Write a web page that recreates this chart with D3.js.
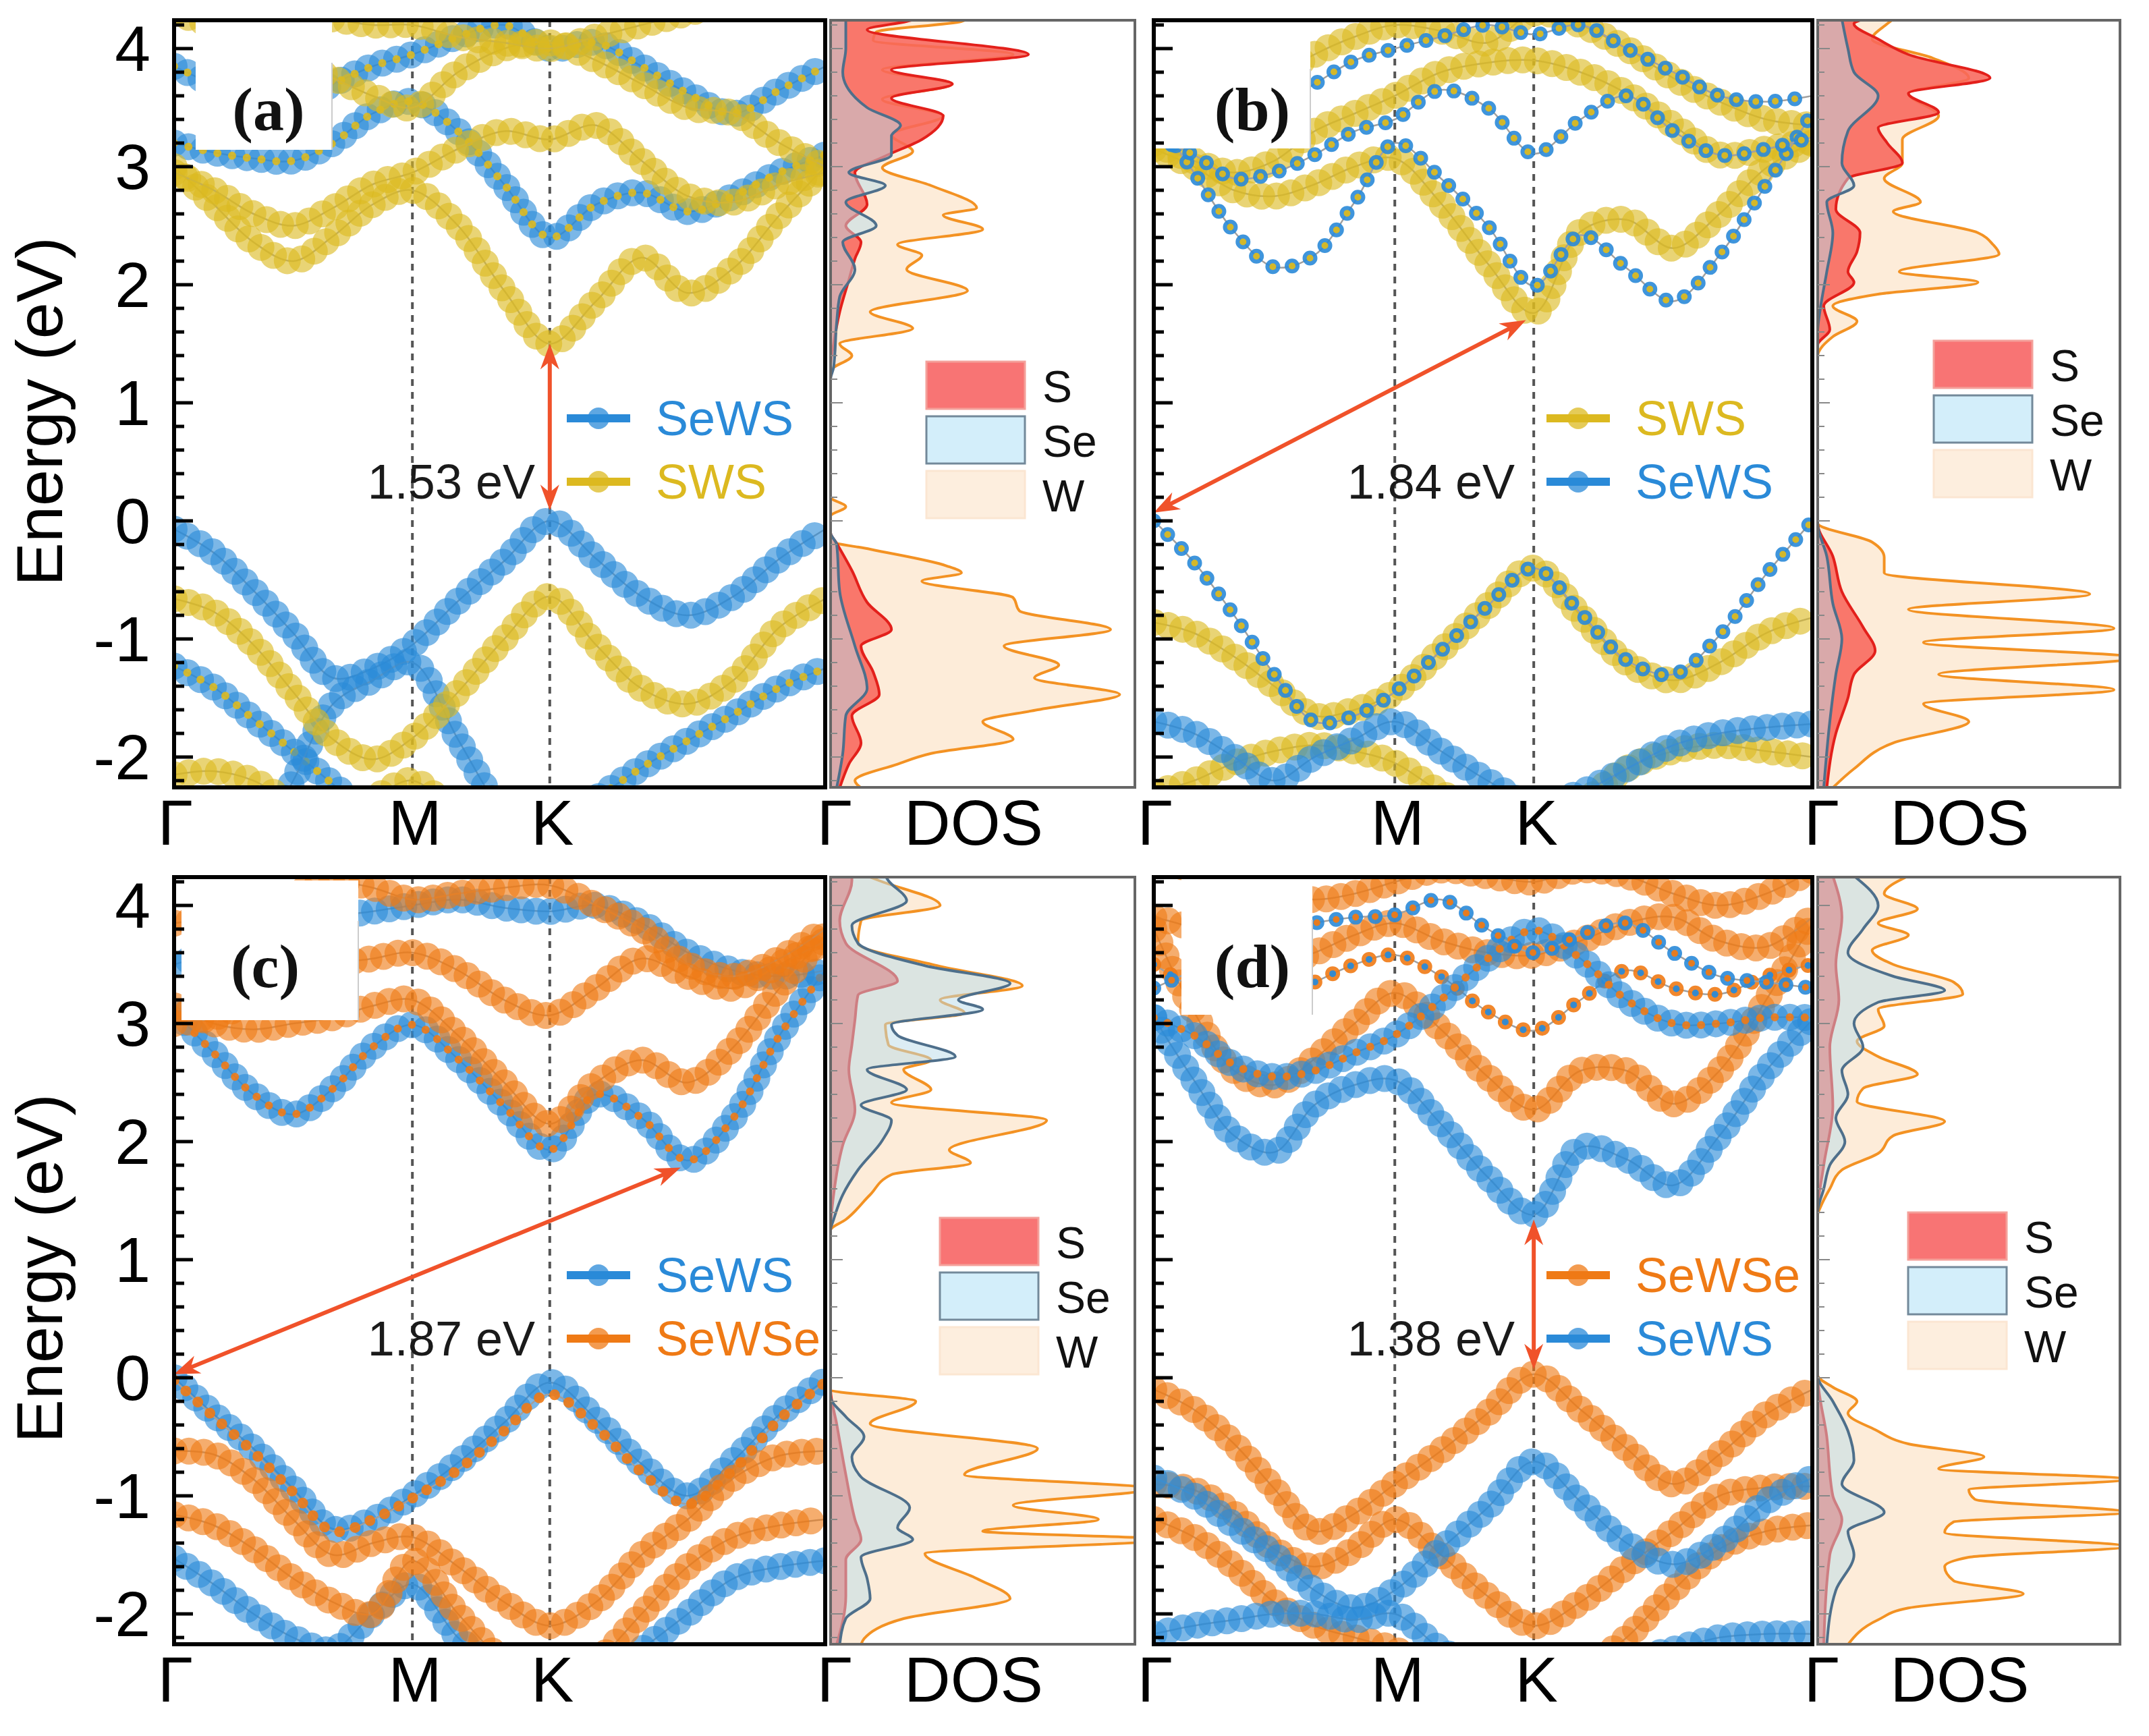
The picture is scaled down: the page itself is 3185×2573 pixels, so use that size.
<!DOCTYPE html>
<html><head><meta charset="utf-8">
<script src="https://cdn.jsdelivr.net/npm/d3@7"></script>
<style>body{margin:0;background:#fff}svg{display:block}</style>
</head><body>
<svg id="c" width="3185" height="2573"></svg>
<script>
// ---------------- DATA ----------------
const K_FRAC = [0,0.061,0.122,0.183,0.244,0.305,0.366,0.436,0.507,0.577,0.648,0.718,0.789,0.859,0.930,1];
const HSP_POS = [0,0.366,0.577,1];
const HSP_LABELS = ["Γ","M","K","Γ"];
const Y_TICKS = [-2,-1,0,1,2,3,4];
const Y_TICK_LABELS = ["-2","-1","0","1","2","3","4"];
const MATERIALS = ["SeWS","SWS","SeWSe"];

// panel (a): SeWS / SWS
const A_SeWS = [
 [-0.07,-0.27,-0.59,-0.95,-1.33,-1.25,-1.05,-0.68,-0.34,0.0,-0.32,-0.64,-0.8,-0.64,-0.32,-0.07],
 [-1.23,-1.41,-1.68,-1.95,-2.23,-2.5,-2.6,-2.7,-2.7,-2.6,-2.35,-2.09,-1.86,-1.64,-1.41,-1.25],
 [-3,-3,-2.8,-2.2,-1.55,-1.35,-1.2,-1.85,-2.5,-2.9,-3,-3,-3,-3,-3,-3],
 [3.2,3.12,3.07,3.05,3.2,3.45,3.55,3.3,2.85,2.4,2.68,2.78,2.62,2.75,2.95,3.1],
 [3.85,3.7,3.6,3.55,3.7,3.85,3.95,4.1,4.2,4.0,4.05,3.85,3.62,3.45,3.65,3.85]
];
const A_SeWS_KIND = ["B","BI","B","BI","BI"];
const A_SWS = [
 [-0.66,-0.77,-1.05,-1.45,-1.85,-2.02,-1.84,-1.45,-1.0,-0.64,-1.05,-1.42,-1.55,-1.35,-0.9,-0.66],
 [-2.15,-2.12,-2.2,-2.4,-2.5,-2.35,-2.2,-2.5,-2.7,-2.8,-2.8,-2.7,-2.6,-2.5,-2.4,-2.35],
 [3.0,2.68,2.36,2.2,2.41,2.68,2.8,2.5,1.95,1.5,1.86,2.23,1.93,2.14,2.59,3.0],
 [2.95,2.8,2.6,2.5,2.65,2.85,2.95,3.15,3.3,3.23,3.35,3.05,2.75,2.7,2.85,2.95],
 [4.3,4.2,4.1,3.9,3.75,3.6,3.5,3.8,4.0,4.05,3.9,3.7,3.5,3.45,3.2,3.0],
 [4.6,4.5,4.4,4.3,4.25,4.2,4.2,4.1,4.05,4.0,4.1,4.2,4.3,4.4,4.5,4.6]
];
const A_SWS_KIND = ["B","B","B","B","B","B"];

// panel (b): SWS / SeWS
const B_SWS = [
 [-0.86,-0.95,-1.15,-1.4,-1.65,-1.6,-1.45,-1.1,-0.72,-0.4,-0.8,-1.2,-1.35,-1.2,-0.95,-0.82],
 [-2.3,-2.2,-2.05,-1.95,-1.9,-1.95,-2.05,-2.3,-2.5,-2.6,-2.4,-2.1,-1.95,-1.9,-1.95,-2.0],
 [3.15,3.0,2.8,2.75,2.85,3.0,3.07,2.69,2.18,1.76,2.45,2.55,2.31,2.6,2.99,3.2],
 [3.2,3.05,2.95,3.05,3.3,3.45,3.6,3.8,3.88,3.9,3.8,3.62,3.35,3.1,3.15,3.22],
 [3.35,3.4,3.55,3.75,3.95,4.1,4.2,4.15,4.05,4.3,4.2,4.0,3.75,3.55,3.4,3.35]
];
const B_SWS_KIND = ["B","B","B","B","B"];
const B_SeWS = [
 [0.0,-0.35,-0.8,-1.3,-1.7,-1.65,-1.45,-1.1,-0.72,-0.4,-0.78,-1.18,-1.3,-0.97,-0.45,0.0],
 [-1.7,-1.8,-2.0,-2.2,-2.0,-1.85,-1.7,-1.95,-2.2,-2.4,-2.3,-2.1,-1.9,-1.8,-1.75,-1.72],
 [3.45,2.95,2.45,2.15,2.25,2.7,3.2,2.9,2.5,1.99,2.42,2.14,1.86,2.25,2.85,3.45],
 [3.25,3.1,2.9,2.95,3.1,3.3,3.4,3.65,3.5,3.11,3.4,3.6,3.3,3.1,3.15,3.25],
 [3.6,3.5,3.4,3.5,3.7,3.9,4.0,4.1,4.2,4.12,4.2,4.0,3.8,3.6,3.55,3.6]
];
const B_SeWS_KIND = ["S","B","S","S","S"];

// panel (c): SeWS / SeWSe
const C_SeWS = [
 [0.0,-0.31,-0.6,-0.94,-1.28,-1.2,-1.0,-0.72,-0.38,-0.04,-0.35,-0.73,-1.0,-0.7,-0.31,-0.02],
 [-1.53,-1.75,-2.0,-2.2,-2.3,-2.0,-1.75,-2.2,-2.5,-2.7,-2.6,-2.3,-2.0,-1.7,-1.6,-1.55],
 [3.1,2.75,2.4,2.23,2.45,2.8,2.99,2.7,2.3,1.93,2.4,2.2,1.84,2.2,2.9,3.45],
 [3.5,3.6,3.7,3.8,3.9,3.95,4.0,4.05,3.98,3.95,4.0,3.85,3.6,3.45,3.4,3.45]
];
const C_SeWS_KIND = ["B","B","BI","B"];
const C_SeWSe = [
 [-0.02,-0.33,-0.63,-0.97,-1.3,-1.2,-1.02,-0.78,-0.45,-0.14,-0.42,-0.8,-1.07,-0.78,-0.35,-0.04],
 [-0.62,-0.65,-0.86,-1.2,-1.5,-1.4,-1.35,-1.6,-1.9,-2.1,-1.9,-1.5,-1.2,-0.85,-0.66,-0.62],
 [-1.16,-1.25,-1.45,-1.7,-1.9,-2.0,-1.55,-2.0,-2.4,-2.6,-2.4,-2.0,-1.6,-1.35,-1.25,-1.2],
 [3.15,3.0,2.95,3.0,3.05,3.15,3.2,2.9,2.5,2.15,2.5,2.69,2.5,2.8,3.3,3.75],
 [3.0,3.05,3.2,3.4,3.5,3.55,3.6,3.45,3.2,3.07,3.3,3.55,3.4,3.3,3.5,3.7],
 [3.85,3.9,4.0,4.1,4.2,4.15,4.05,4.1,4.15,4.17,4.0,3.8,3.5,3.4,3.55,3.8]
];
const C_SeWSe_KIND = ["D","B","B","B","B","B"];

// panel (d): SeWSe / SeWS
const D_SeWSe = [
 [-0.1,-0.27,-0.56,-0.94,-1.3,-1.15,-0.9,-0.62,-0.3,0.03,-0.27,-0.6,-0.9,-0.65,-0.31,-0.1],
 [-0.9,-0.95,-1.15,-1.45,-1.6,-1.45,-1.2,-1.5,-1.85,-2.1,-1.9,-1.6,-1.3,-1.0,-0.93,-0.92],
 [-1.2,-1.35,-1.6,-1.9,-2.1,-2.2,-2.3,-2.5,-2.6,-2.7,-2.5,-2.2,-1.8,-1.45,-1.3,-1.25],
 [3.8,3.1,2.6,2.48,2.7,3.0,3.26,2.95,2.55,2.27,2.6,2.6,2.32,2.6,3.2,3.85],
 [3.5,3.3,3.15,3.2,3.35,3.5,3.58,3.4,3.1,2.94,3.2,3.45,3.3,3.25,3.4,3.5],
 [3.9,3.8,3.6,3.5,3.6,3.75,3.85,3.7,3.6,3.58,3.7,3.85,3.9,3.7,3.65,3.9],
 [4.4,4.3,4.2,4.1,4.05,4.1,4.2,4.3,4.25,4.2,4.3,4.25,4.1,4.0,4.1,4.3]
];
const D_SeWSe_KIND = ["B","B","B","B","S","B","B"];
const D_SeWS = [
 [-0.85,-1.0,-1.25,-1.5,-1.8,-1.95,-1.8,-1.45,-1.1,-0.71,-1.05,-1.4,-1.58,-1.4,-1.05,-0.85],
 [-2.17,-2.1,-2.05,-2.0,-2.0,-2.05,-2.0,-2.3,-2.5,-2.6,-2.55,-2.4,-2.3,-2.2,-2.17,-2.17],
 [3.05,2.52,2.05,1.91,2.31,2.48,2.52,2.15,1.7,1.38,1.95,1.85,1.63,2.05,2.6,3.03],
 [3.05,2.9,2.65,2.55,2.6,2.75,2.9,3.2,3.55,3.79,3.55,3.2,3.0,3.0,3.05,3.05],
 [3.3,3.45,3.6,3.75,3.85,3.9,3.92,4.05,3.8,3.6,3.75,3.85,3.6,3.4,3.35,3.3]
];
const D_SeWS_KIND = ["B","B","B","BI","S"];

// band gaps: [kFrac, E] start (VBM side) and end (CBM side)
const GAP_TEXT = ["1.53 eV","1.84 eV","1.87 eV","1.38 eV"];
const GAP_FROM = [[0.577,0.09],[0,0.07],[0,0.03],[0.577,0.07]];
const GAP_TO   = [[0.577,1.5],[0.565,1.70],[0.778,1.78],[0.577,1.34]];

// projected DOS: [E (eV), DOS (fraction of panel width)]
const DOS_A_W = [[4.25,0.45],[4.23,0.43],[4.14,0.15],[4.07,0.14],[3.95,0.6],[3.82,0.17],[3.7,0.4],[3.57,0.17],[3.43,0.37],[3.27,0.2],[3.13,0.27],[2.99,0.17],[2.84,0.33],[2.65,0.48],[2.59,0.37],[2.47,0.5],[2.34,0.22],[2.25,0.3],[2.13,0.25],[1.95,0.45],[1.77,0.13],[1.63,0.27],[1.5,0.03],[1.4,0.07],[1.27,0.0],[0.2,0.0],[0.12,0.05],[0.04,0.0],[-0.17,0.0],[-0.24,0.13],[-0.38,0.38],[-0.44,0.43],[-0.51,0.3],[-0.65,0.6],[-0.76,0.62],[-0.92,0.92],[-1.06,0.57],[-1.22,0.75],[-1.33,0.67],[-1.47,0.95],[-1.6,0.68],[-1.7,0.5],[-1.85,0.6],[-1.97,0.33],[-2.06,0.22],[-2.2,0.08],[-2.26,0.1]];
const DOS_A_S = [[4.25,0.28],[4.23,0.25],[4.16,0.12],[3.95,0.65],[3.82,0.2],[3.7,0.4],[3.58,0.2],[3.43,0.37],[3.23,0.3],[3.09,0.18],[2.95,0.08],[2.68,0.12],[2.5,0.05],[2.36,0.1],[2.22,0.08],[2.04,0.06],[1.77,0.03],[1.5,0.01],[1.3,0],[-0.1,0],[-0.19,0.02],[-0.42,0.07],[-0.69,0.12],[-0.92,0.2],[-1.06,0.1],[-1.28,0.14],[-1.47,0.16],[-1.65,0.07],[-1.88,0.1],[-2.06,0.06],[-2.26,0.03]];
const DOS_A_Se = [[4.25,0.05],[4.0,0.05],[3.8,0.04],[3.5,0.12],[3.35,0.23],[3.26,0.2],[3.1,0.2],[2.95,0.06],[2.84,0.18],[2.7,0.05],[2.5,0.15],[2.36,0.04],[2.13,0.08],[1.9,0.03],[1.68,0.02],[1.3,0.01],[1.2,0],[-0.1,0],[-0.2,0.02],[-0.6,0.03],[-1.06,0.08],[-1.42,0.12],[-1.65,0.05],[-1.97,0.04],[-2.26,0.02]];

const DOS_B_W = [[4.25,0.25],[4.21,0.23],[4.08,0.18],[3.92,0.38],[3.75,0.5],[3.62,0.3],[3.43,0.4],[3.23,0.28],[3.03,0.28],[2.9,0.22],[2.7,0.34],[2.62,0.25],[2.44,0.53],[2.34,0.58],[2.26,0.6],[2.11,0.27],[2.02,0.53],[1.92,0.2],[1.82,0.05],[1.69,0.13],[1.56,0.05],[1.46,0.01],[1.4,0],[-0.02,0],[-0.18,0.18],[-0.31,0.22],[-0.44,0.22],[-0.62,0.9],[-0.75,0.3],[-0.91,0.98],[-1.03,0.35],[-1.16,1.05],[-1.3,0.4],[-1.43,0.98],[-1.55,0.35],[-1.7,0.5],[-1.88,0.25],[-2.1,0.12],[-2.26,0.05]];
const DOS_B_S = [[4.25,0.15],[4.21,0.12],[4.08,0.2],[3.95,0.3],[3.75,0.57],[3.62,0.3],[3.46,0.4],[3.33,0.2],[3.2,0.23],[3.03,0.28],[2.9,0.1],[2.64,0.06],[2.44,0.14],[2.28,0.13],[2.11,0.1],[2.02,0.12],[1.82,0.02],[1.62,0.04],[1.49,0],[-0.02,0],[-0.3,0.05],[-0.6,0.08],[-0.9,0.15],[-1.1,0.19],[-1.3,0.12],[-1.5,0.1],[-1.8,0.06],[-2.26,0.03]];
const DOS_B_Se = [[4.25,0.08],[4.0,0.1],[3.8,0.12],[3.6,0.2],[3.3,0.1],[3.03,0.08],[2.84,0.12],[2.7,0.03],[2.44,0.05],[2.11,0.03],[1.82,0.01],[1.6,0],[-0.02,0],[-0.3,0.03],[-0.7,0.05],[-1.0,0.08],[-1.3,0.06],[-1.7,0.04],[-2.26,0.02]];

const DOS_C_W = [[4.25,0.12],[4.21,0.16],[4.0,0.36],[3.87,0.1],[3.68,0.09],[3.49,0.35],[3.32,0.63],[3.2,0.36],[3.09,0.44],[2.99,0.18],[2.82,0.19],[2.69,0.33],[2.61,0.24],[2.44,0.33],[2.33,0.2],[2.18,0.71],[1.93,0.39],[1.82,0.46],[1.72,0.2],[1.55,0.13],[1.34,0.05],[1.25,0],[-0.1,0],[-0.2,0.28],[-0.39,0.13],[-0.6,0.68],[-0.82,0.44],[-0.94,1.05],[-1.08,0.6],[-1.2,0.88],[-1.3,0.5],[-1.37,1.1],[-1.49,0.31],[-1.7,0.48],[-1.87,0.59],[-2.04,0.24],[-2.21,0.11],[-2.26,0.1]];
const DOS_C_S = [[4.25,0.07],[4.21,0.07],[3.87,0.03],[3.68,0.05],[3.36,0.22],[3.24,0.09],[3.03,0.08],[2.82,0.07],[2.61,0.06],[2.27,0.08],[1.97,0.04],[1.55,0.01],[1.25,0],[-0.1,0],[-0.39,0.02],[-0.82,0.05],[-1.2,0.08],[-1.37,0.1],[-1.54,0.05],[-1.85,0.05],[-2.26,0.02]];
const DOS_C_Se = [[4.25,0.18],[4.21,0.19],[4.04,0.25],[3.83,0.07],[3.68,0.09],[3.49,0.31],[3.34,0.59],[3.2,0.42],[3.12,0.5],[2.99,0.2],[2.9,0.22],[2.72,0.41],[2.61,0.12],[2.44,0.25],[2.31,0.1],[2.18,0.2],[2.01,0.17],[1.76,0.09],[1.55,0.04],[1.34,0.01],[1.25,0],[-0.1,0],[-0.16,0.0],[-0.33,0.05],[-0.5,0.11],[-0.67,0.07],[-0.84,0.1],[-1.1,0.26],[-1.27,0.22],[-1.37,0.27],[-1.52,0.1],[-1.7,0.12],[-1.87,0.13],[-2.04,0.05],[-2.26,0.03]];

const DOS_D_W = [[4.25,0.3],[4.1,0.22],[3.97,0.33],[3.85,0.2],[3.75,0.3],[3.62,0.18],[3.5,0.25],[3.35,0.45],[3.25,0.48],[3.12,0.2],[2.98,0.22],[2.85,0.13],[2.72,0.2],[2.57,0.33],[2.45,0.15],[2.34,0.13],[2.17,0.42],[2.05,0.25],[1.9,0.2],[1.76,0.08],[1.6,0.04],[1.45,0.01],[1.38,0],[0.02,0],[-0.08,0.05],[-0.2,0.13],[-0.3,0.1],[-0.44,0.19],[-0.56,0.3],[-0.67,0.55],[-0.77,0.4],[-0.86,1.02],[-0.95,0.5],[-1.03,0.52],[-1.14,1.02],[-1.22,0.45],[-1.31,0.42],[-1.43,1.02],[-1.52,0.5],[-1.6,0.42],[-1.72,0.45],[-1.83,0.68],[-1.95,0.3],[-2.05,0.2],[-2.26,0.1]];
const DOS_D_S = [[4.25,0.05],[3.9,0.08],[3.5,0.06],[3.2,0.07],[2.8,0.04],[2.3,0.05],[1.8,0.02],[1.4,0],[0.02,0],[-0.5,0.03],[-1.0,0.05],[-1.2,0.08],[-1.5,0.04],[-2.26,0.02]];
const DOS_D_Se = [[4.25,0.12],[4.0,0.2],[3.8,0.15],[3.6,0.1],[3.4,0.25],[3.28,0.42],[3.18,0.2],[3.0,0.12],[2.8,0.15],[2.6,0.08],[2.4,0.1],[2.2,0.06],[2.0,0.09],[1.8,0.04],[1.6,0.02],[1.4,0],[0.02,0],[-0.2,0.05],[-0.45,0.1],[-0.7,0.12],[-0.9,0.08],[-1.14,0.22],[-1.3,0.1],[-1.5,0.12],[-1.8,0.06],[-2.26,0.03]];
const DOS_SPECIES = ["S","Se","W"];

// ---------------- LAYOUT / STYLE ----------------
const COLORS = {SeWS:"#2a8ad8", SWS:"#dcb920", SeWSe:"#ef7a15"};
const COLS = [{bx:258,bw:965,dx:1231,dw:451},{bx:1710,bw:976,dx:2694,dw:448}];
const ROWS = [30,1300];
const H = 1137;
const Y_DOMAIN = [-2.257,4.24];
const FONT = "'Liberation Sans', Arial, sans-serif";

const PANELS = [
 {id:"a",col:0,row:0,mats:[["SeWS",A_SeWS,A_SeWS_KIND],["SWS",A_SWS,A_SWS_KIND]],legend:["SeWS","SWS"],gap:0,
  dos:{W:DOS_A_W,S:DOS_A_S,Se:DOS_A_Se},box:[32,3,202,189],lbl:140,dleg:[142,506]},
 {id:"b",col:1,row:0,mats:[["SWS",B_SWS,B_SWS_KIND],["SeWS",B_SeWS,B_SeWS_KIND]],legend:["SWS","SeWS"],gap:1,
  dos:{W:DOS_B_W,S:DOS_B_S,Se:DOS_B_Se},box:[2,12,230,178],lbl:146,dleg:[172,475]},
 {id:"c",col:0,row:1,mats:[["SeWS",C_SeWS,C_SeWS_KIND],["SeWSe",C_SeWSe,C_SeWSe_KIND]],legend:["SeWS","SeWSe"],gap:2,
  dos:{W:DOS_C_W,S:DOS_C_S,Se:DOS_C_Se},box:[11,5,262,207],lbl:135,dleg:[162,505]},
 {id:"d",col:1,row:1,mats:[["SeWSe",D_SeWSe,D_SeWSe_KIND],["SeWS",D_SeWS,D_SeWS_KIND]],legend:["SeWSe","SeWS"],gap:3,
  dos:{W:DOS_D_W,S:DOS_D_S,Se:DOS_D_Se},box:[41,3,194,201],lbl:146,dleg:[134,497]}
];

const svg = d3.select("#c");
const defs = svg.append("defs");

function dots(g, d, color, opacity, width, gap, offset) {
  g.append("path").attr("d",d).attr("fill","none").attr("stroke",color).attr("stroke-opacity",opacity)
    .attr("stroke-width",width).attr("stroke-linecap","round")
    .attr("stroke-dasharray",`0 ${gap}`).attr("stroke-dashoffset",offset);
}

function drawBand(g, vals, color, other, kind, x, y) {
  const pts = vals.map((e,i)=>[K_FRAC[i], e]);
  const line = d3.line().x(d=>x(d[0])).y(d=>y(d[1])).curve(d3.curveCatmullRom.alpha(0.5));
  const d = line(pts);
  g.append("path").attr("d",d).attr("fill","none").attr("stroke","#a0a0a0").attr("stroke-width",2.5);
  if (kind==="B" || kind==="BI") {
    dots(g, d, color, 0.62, 40, 44, 0);
    dots(g, d, color, 0.62, 40, 44, 22);
    if (kind==="BI") dots(g, d, other, 0.9, 12, 22, 0);
  } else if (kind==="S") {
    dots(g, d, color, 0.9, 22, 29, 0);
    dots(g, d, other, 0.95, 10, 29, 0);
  } else if (kind==="D") {
    dots(g, d, color, 0.9, 16, 24, 0);
  }
}

function arrowHead(g, tip, from, color) {
  const dx = tip[0]-from[0], dy = tip[1]-from[1], L = Math.hypot(dx,dy);
  const ux = dx/L, uy = dy/L, hl = 38, hw = 14;
  const bx = tip[0]-ux*hl, by = tip[1]-uy*hl;
  g.append("path").attr("d",`M${tip[0]},${tip[1]}L${bx-uy*hw},${by+ux*hw}L${tip[0]-ux*hl*0.7},${tip[1]-uy*hl*0.7}L${bx+uy*hw},${by-ux*hw}Z`)
   .attr("fill",color);
}

PANELS.forEach(P => {
  const col = COLS[P.col], top = ROWS[P.row];
  const x = d3.scaleLinear().domain([0,1]).range([col.bx, col.bx+col.bw]);
  const y = d3.scaleLinear().domain(Y_DOMAIN).range([top+H, top]);
  const xd = d3.scaleLinear().domain([0,1]).range([col.dx, col.dx+col.dw]);
  const g = svg.append("g");

  defs.append("clipPath").attr("id","cb"+P.id).append("rect")
    .attr("x",col.bx).attr("y",top).attr("width",col.bw).attr("height",H);
  defs.append("clipPath").attr("id","cd"+P.id).append("rect")
    .attr("x",col.dx).attr("y",top).attr("width",col.dw).attr("height",H);

  // dashed high-symmetry lines
  [HSP_POS[1],HSP_POS[2]].forEach(k => {
    g.append("line").attr("x1",x(k)).attr("x2",x(k)).attr("y1",top).attr("y2",top+H)
      .attr("stroke","#555").attr("stroke-width",4).attr("stroke-dasharray","10 9");
  });

  // bands
  const bg = g.append("g").attr("clip-path",`url(#cb${P.id})`);
  const names = P.mats.map(m=>m[0]);
  P.mats.forEach(m => {
    const other = COLORS[names.find(n=>n!==m[0])];
    m[1].forEach((vals,i) => drawBand(bg, vals, COLORS[m[0]], other, m[2][i], x, y));
  });

  // panel label box
  g.append("rect").attr("x",col.bx+P.box[0]).attr("y",top+P.box[1]).attr("width",P.box[2]).attr("height",P.box[3])
    .attr("fill","#fff");
  g.append("line").attr("x1",col.bx+P.box[0]+P.box[2]).attr("x2",col.bx+P.box[0]+P.box[2])
    .attr("y1",top+P.box[1]+60).attr("y2",top+P.box[1]+P.box[3]).attr("stroke","#ccc").attr("stroke-width",2);
  g.append("text").attr("x",col.bx+P.lbl).attr("y",top+163).attr("text-anchor","middle")
    .attr("font-family","'Liberation Serif', 'Times New Roman', serif").attr("font-weight","bold")
    .attr("font-size",92).attr("fill","#111").text("("+P.id+")");

  // gap arrow
  const gi = P.gap;
  const p0 = [x(GAP_FROM[gi][0]), y(GAP_FROM[gi][1])];
  const p1 = [x(GAP_TO[gi][0]), y(GAP_TO[gi][1])];
  const AC = "#f0522a";
  {
    const dx = p1[0]-p0[0], dy = p1[1]-p0[1], L = Math.hypot(dx,dy), ux = dx/L, uy = dy/L;
    g.append("line").attr("x1",p0[0]+ux*25).attr("y1",p0[1]+uy*25).attr("x2",p1[0]-ux*25).attr("y2",p1[1]-uy*25)
      .attr("stroke",AC).attr("stroke-width",6);
    arrowHead(g, p0, p1, AC);
    arrowHead(g, p1, p0, AC);
  }
  g.append("text").attr("x",col.bx+535).attr("y",top+684).attr("dominant-baseline","central")
    .attr("text-anchor","end").attr("font-family",FONT).attr("font-size",72).attr("fill","#1a1a1a").text(GAP_TEXT[gi]);

  // legend
  P.legend.forEach((name,i) => {
    const ly = top + 590 + i*94, c = COLORS[name];
    g.append("line").attr("x1",col.bx+582).attr("x2",col.bx+676).attr("y1",ly).attr("y2",ly)
      .attr("stroke",c).attr("stroke-width",12);
    g.append("circle").attr("cx",col.bx+629).attr("cy",ly).attr("r",16).attr("fill",c).attr("fill-opacity",0.75);
    g.append("text").attr("x",col.bx+714).attr("y",ly).attr("dominant-baseline","central")
      .attr("font-family",FONT).attr("font-size",72).attr("fill",c).text(name);
  });

  // frame and ticks of band panel
  g.append("rect").attr("x",col.bx).attr("y",top).attr("width",col.bw).attr("height",H)
    .attr("fill","none").attr("stroke","#000").attr("stroke-width",6);
  const minor = d3.range(-2.2, 4.25, 0.2).filter(v => Math.abs(v-Math.round(v))>0.05);
  minor.forEach(v => g.append("line").attr("x1",col.bx).attr("x2",col.bx+15).attr("y1",y(v)).attr("y2",y(v))
    .attr("stroke","#000").attr("stroke-width",5));
  Y_TICKS.forEach((v,i) => {
    g.append("line").attr("x1",col.bx).attr("x2",col.bx+28).attr("y1",y(v)).attr("y2",y(v))
      .attr("stroke","#000").attr("stroke-width",5);
    if (P.col===0) g.append("text").attr("x",col.bx-35).attr("y",y(v)).attr("dominant-baseline","central")
      .attr("text-anchor","end").attr("font-family",FONT).attr("font-size",95).attr("fill","#000").text(Y_TICK_LABELS[i]);
  });

  // x labels
  const lblY = top + H + 85;
  HSP_POS.forEach((k,i) => {
    const xx = i===0 ? x(k)+2 : (i===3 ? x(k)+14 : x(k)+4);
    g.append("text").attr("x",xx).attr("y",lblY).attr("text-anchor","middle")
      .attr("font-family",FONT).attr("font-size",95).attr("fill","#000").text(HSP_LABELS[i]);
  });
  g.append("text").attr("x",col.dx+col.dw*0.47).attr("y",lblY).attr("text-anchor","middle")
    .attr("font-family",FONT).attr("font-size",95).attr("fill","#000").text("DOS");

  if (P.col===0) {
    g.append("text").attr("transform",`translate(92,${top+580}) rotate(-90)`).attr("text-anchor","middle")
      .attr("font-family",FONT).attr("font-size",97).attr("fill","#000").text("Energy (eV)");
  }

  // DOS panel
  const dg = g.append("g").attr("clip-path",`url(#cd${P.id})`);
  const area = d3.area().curve(d3.curveMonotoneY).y(d=>y(d[0])).x0(xd(0)).x1(d=>xd(d[1]));
  const dline = d3.line().curve(d3.curveMonotoneY).y(d=>y(d[0])).x(d=>xd(d[1]));
  dg.append("path").attr("d",area(P.dos.W)).attr("fill","#fde9d2").attr("fill-opacity",0.85);
  dg.append("path").attr("d",dline(P.dos.W)).attr("fill","none").attr("stroke","#f39223").attr("stroke-width",4);
  dg.append("path").attr("d",area(P.dos.S)).attr("fill","#f8665b").attr("fill-opacity",0.88);
  dg.append("path").attr("d",dline(P.dos.S)).attr("fill","none").attr("stroke","#e3201b").attr("stroke-width",4);
  dg.append("path").attr("d",area(P.dos.Se)).attr("fill","#b9dcea").attr("fill-opacity",0.5);
  dg.append("path").attr("d",dline(P.dos.Se)).attr("fill","none").attr("stroke","#4e6f8b").attr("stroke-width",4);

  g.append("rect").attr("x",col.dx).attr("y",top).attr("width",col.dw).attr("height",H)
    .attr("fill","none").attr("stroke","#666").attr("stroke-width",4);
  d3.range(-2.2,4.25,0.2).forEach(v => {
    const major = Math.abs(v-Math.round(v))<0.05;
    g.append("line").attr("x1",col.dx).attr("x2",col.dx+(major?18:10)).attr("y1",y(v)).attr("y2",y(v))
      .attr("stroke","#888").attr("stroke-width",2);
  });

  // DOS legend
  const LFILL = {S:"#f87474", Se:"#d3eefa", W:"#fdeede"};
  const LSTROKE = {S:"#f4a09a", Se:"#73899a", W:"#fbe6d2"};
  DOS_SPECIES.forEach((sp,i) => {
    const rx = col.dx + P.dleg[0], ry = top + P.dleg[1] + i*81;
    g.append("rect").attr("x",rx).attr("y",ry).attr("width",146).attr("height",70)
      .attr("fill",LFILL[sp]).attr("stroke",LSTROKE[sp]).attr("stroke-width",3);
    g.append("text").attr("x",rx+172).attr("y",ry+37).attr("dominant-baseline","central")
      .attr("font-family",FONT).attr("font-size",66).attr("fill","#111").text(sp);
  });
});
</script>
</body></html>
